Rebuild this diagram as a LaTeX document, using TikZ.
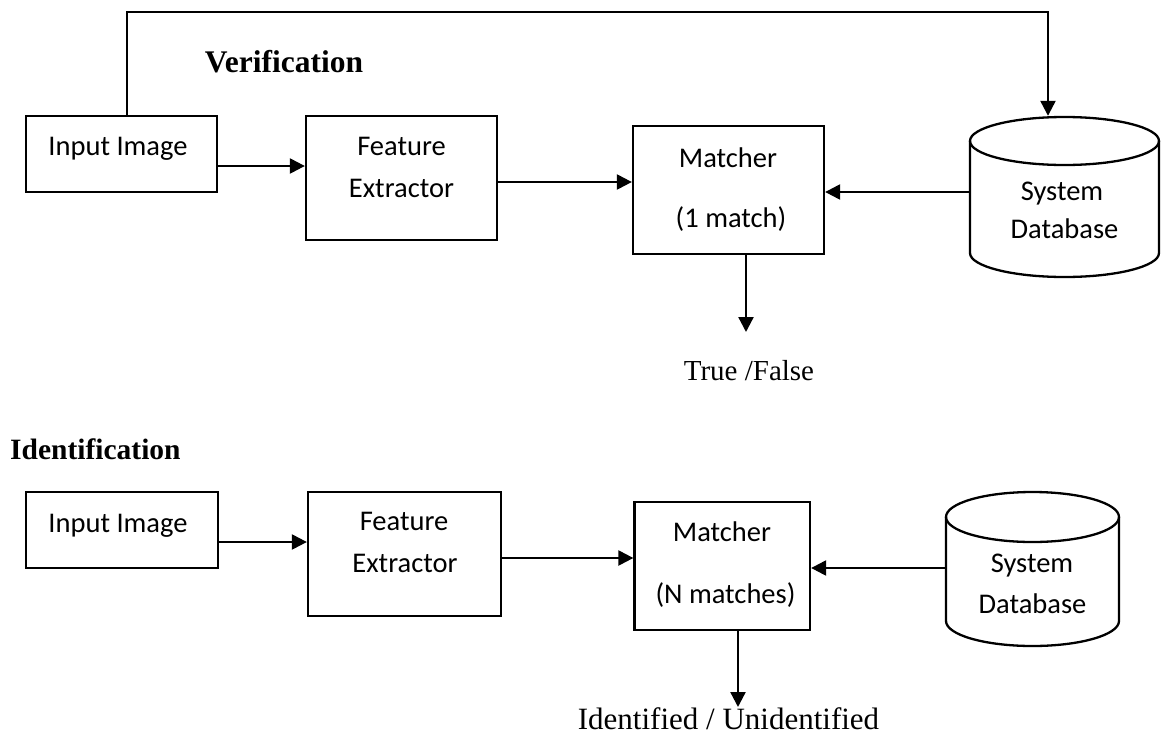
\documentclass[tikz,border=0pt]{standalone}
\usepackage{fontspec}
\setmainfont{Liberation Serif}
\newfontfamily\boxfont{Carlito}
\usetikzlibrary{arrows.meta,calc}

\begin{document}
\begin{tikzpicture}[x=1pt,y=1pt,
  stage/.style={draw, line width=2.3pt, rectangle, inner sep=0pt},
  store/.style={inner sep=0pt, rectangle},
  boxtext/.style={font=\boxfont\fontsize{28.5}{34}\selectfont, anchor=base, inner sep=0pt},
  note/.style={font=\fontsize{29}{35}\selectfont, anchor=base, inner sep=0pt},
  heading/.style={font=\bfseries\fontsize{29.5}{35}\selectfont, anchor=base, inner sep=0pt},
  flow/.style={line width=2.3pt, -{Triangle[length=15pt,width=15pt]}},
  wire/.style={line width=2.3pt}]

\useasboundingbox (0,0) rectangle (1168,-734);

% ---------- Verification ----------
\node[heading, font=\bfseries\fontsize{31.5}{37}\selectfont] (vhead) at (284,-72) {Verification};

\node[stage, minimum width=191, minimum height=76]  (in1) at (121.5,-154) {};
\node[stage, minimum width=191, minimum height=124] (fe1) at (401.5,-178) {};
\node[stage, minimum width=191, minimum height=128] (m1)  at (728.5,-190) {};
\node[store, minimum width=189, minimum height=161] (db1) at (1064.5,-196.5) {};

% database cylinder
\draw[wire] (970,-141) -- (970,-253) arc[start angle=180,end angle=360,x radius=94.5pt,y radius=24pt] -- (1159,-141);
\draw[wire] (1064.5,-141) ellipse[x radius=94.5pt,y radius=24pt];

\node[boxtext] (in1t)  at (118,-155)   {Input Image};
\node[boxtext] (fe1a)  at (401.5,-155) {Feature};
\node[boxtext] (fe1b)  at (401.5,-197) {Extractor};
\node[boxtext] (m1a)   at (728,-167)   {Matcher};
\node[boxtext] (m1b)   at (731,-227)   {(1 match)};
\node[boxtext] (db1a)  at (1062,-200)  {System};
\node[boxtext] (db1b)  at (1064.5,-238) {Database};

\coordinate (fbl) at (127,-12);
\coordinate (fbr) at (1048,-12);
\coordinate (r1y) at (0,-166);
\coordinate (r2y) at (0,-182);
\coordinate (r3y) at (0,-192);
\coordinate (out1x) at (746,0);
\coordinate (res1) at (746,-332);

\draw[flow] (in1.north -| fbl) -- (fbl) -- (fbr) -- (db1.north -| fbr);
\draw[flow] (in1.east |- r1y) -- (fe1.west |- r1y);
\draw[flow] (fe1.east |- r2y) -- (m1.west |- r2y);
\draw[flow] (db1.west |- r3y) -- (m1.east |- r3y);
\draw[flow] (m1.south -| out1x) -- (res1);

\node[note] (vres) at (749,-380) {True /False};

% ---------- Identification ----------
\node[heading, anchor=base west] (ihead) at (10,-459) {Identification};

\node[stage, minimum width=192, minimum height=76]  (in2) at (122,-530) {};
\node[stage, minimum width=193, minimum height=124] (fe2) at (404.5,-554) {};
\node[stage, minimum width=175.5, minimum height=128] (m2) at (722.25,-566) {};
\node[store, minimum width=173, minimum height=154] (db2) at (1032.5,-569) {};

\draw[wire] (946,-517) -- (946,-621) arc[start angle=180,end angle=360,x radius=86.5pt,y radius=25pt] -- (1119,-517);
\draw[wire] (1032.5,-517) ellipse[x radius=86.5pt,y radius=25pt];

\node[boxtext] (in2t)  at (118,-532)   {Input Image};
\node[boxtext] (fe2a)  at (404,-530)   {Feature};
\node[boxtext] (fe2b)  at (405,-572)   {Extractor};
\node[boxtext] (m2a)   at (722,-541)   {Matcher};
\node[boxtext] (m2b)   at (725.5,-603) {(N matches)};
\node[boxtext] (db2a)  at (1032,-572)  {System};
\node[boxtext] (db2b)  at (1032.5,-613) {Database};

\coordinate (s1y) at (0,-542);
\coordinate (s2y) at (0,-558);
\coordinate (s3y) at (0,-568);
\coordinate (out2x) at (738,0);
\coordinate (res2) at (738,-707);

\draw[flow] (in2.east |- s1y) -- (fe2.west |- s1y);
\draw[flow] (fe2.east |- s2y) -- (m2.west |- s2y);
\draw[flow] (db2.west |- s3y) -- (m2.east |- s3y);
\draw[flow] (m2.south -| out2x) -- (res2);

\node[note, font=\fontsize{31}{37}\selectfont] (ires) at (728.5,-729) {Identified / Unidentified};
\end{tikzpicture}
\end{document}
